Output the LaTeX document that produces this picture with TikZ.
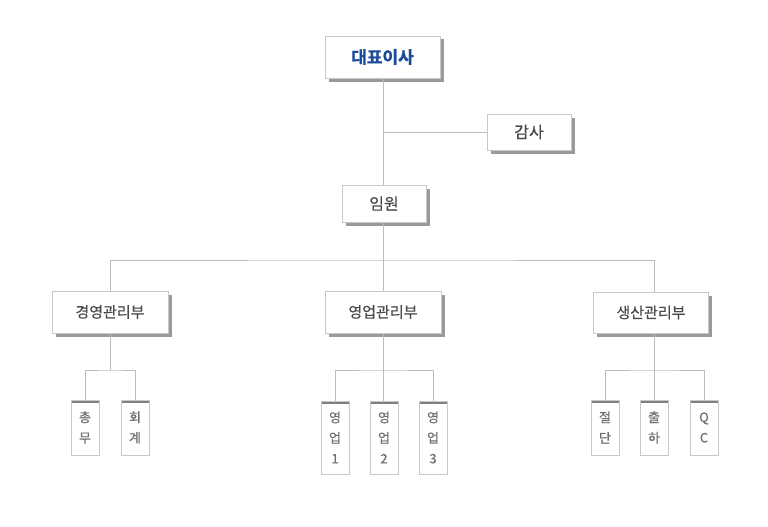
\documentclass[tikz,border=0pt]{standalone}
\usepackage{fontspec}
\setmainfont[FakeBold=0.6]{Noto Sans CJK KR}
\newfontfamily\boldkr[FakeBold=1.2]{Noto Sans CJK KR Bold}
\usetikzlibrary{shadows}
\definecolor{ceoblue}{HTML}{1B4B9B}
\definecolor{txtgray}{HTML}{4A4A4A}
\definecolor{subgray}{HTML}{707070}
\definecolor{edgegray}{HTML}{C8C8C8}
\definecolor{linegray}{HTML}{BDBDBD}
\definecolor{shadowgray}{HTML}{9A9A9A}
\definecolor{bargray}{HTML}{808080}
\begin{document}
\begin{tikzpicture}[x=1pt,y=-1pt,
  bigbox/.style={draw=edgegray, fill=white, line width=0.8pt, inner sep=0pt,
    text=txtgray, font=\fontsize{15}{17}\selectfont,
    drop shadow={shadow xshift=3.5pt, shadow yshift=-3.5pt, fill=shadowgray, opacity=1}},
  subbox/.style={draw=edgegray, fill=white, line width=0.8pt, inner sep=0pt,
    minimum width=28pt, text=subgray, align=center,
    font=\fontsize{13}{20.5}\selectfont,
    path picture={\draw[bargray, line width=6pt]
      (path picture bounding box.north west) -- (path picture bounding box.north east);}},
  conn/.style={draw=linegray, line width=0.8pt}
]
\useasboundingbox (0,0) rectangle (768,527);

% top level
\node[bigbox, minimum width=115pt, minimum height=42pt, text=ceoblue,
      font=\fontsize{17}{19}\selectfont\boldkr] (ceo) at (382.5,57) {대표이사};
\node[bigbox, minimum width=84pt, minimum height=36pt, font=\fontsize{16}{18}\selectfont] (audit) at (529,132) {감사};
\node[bigbox, minimum width=84pt, minimum height=37pt, font=\fontsize{16}{18}\selectfont] (exec) at (384,203.5) {임원};

% departments
\node[bigbox, minimum width=116pt, minimum height=42pt] (d1) at (110,312) {경영관리부};
\node[bigbox, minimum width=116pt, minimum height=42pt] (d2) at (383,312) {영업관리부};
\node[bigbox, minimum width=115pt, minimum height=41pt] (d3) at (651,312.5) {생산관리부};

% sub units
\node[subbox, minimum height=55pt] (s11) at (85,427.5) {총\\무};
\node[subbox, minimum height=55pt] (s12) at (135,427.5) {회\\계};
\node[subbox, minimum height=73pt] (s21) at (335,437.5) {영\\업\\1};
\node[subbox, minimum height=73pt] (s22) at (384,437.5) {영\\업\\2};
\node[subbox, minimum height=73pt] (s23) at (433,437.5) {영\\업\\3};
\node[subbox, minimum height=55pt] (s31) at (605,427.5) {절\\단};
\node[subbox, minimum height=55pt] (s32) at (654,427.5) {출\\하};
\node[subbox, minimum height=55pt] (s33) at (704,427.5) {Q\\C};

% coordinates
\coordinate (top) at (383,78);
\coordinate (ja) at (383,132);
\coordinate (bus) at (383,260);
\coordinate (b1) at (110,370);
\coordinate (b2) at (383,370);
\coordinate (b3) at (654,370);

% connectors
\path[conn] (ceo.south -| top) -- (exec.north -| top);
\path[conn] (ja) -- (audit.west);
\path[conn] (exec.south -| bus) -- (bus);
\path[conn] (d1.north) |- (bus) -| (d3.north -| b3);
\path[conn] (bus) -- (d2.north -| bus);
\path[conn] (d1.south) -- (b1);
\path[conn] (s11.north) |- (b1) -| (s12.north);
\path[conn] (d2.south -| b2) -- (b2);
\path[conn] (s21.north) |- (b2) -| (s23.north);
\path[conn] (b2) -- (s22.north -| b2);
\path[conn] (d3.south -| b3) -- (b3);
\path[conn] (s31.north) |- (b3) -| (s33.north);
\path[conn] (b3) -- (s32.north);
\end{tikzpicture}
\end{document}
